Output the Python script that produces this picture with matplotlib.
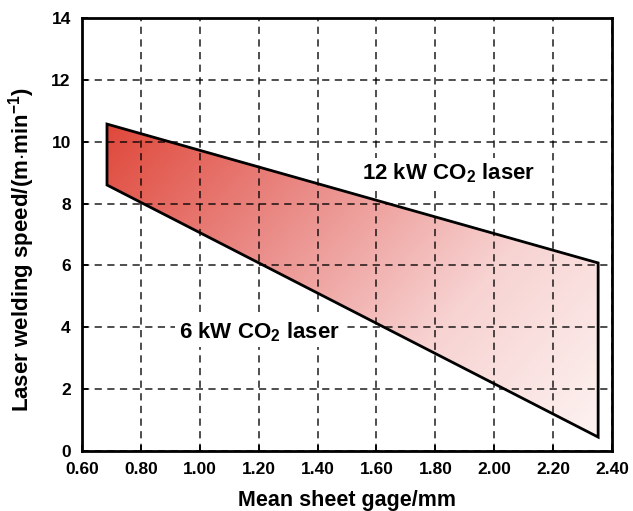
import numpy as np
import matplotlib
matplotlib.use("Agg")
import matplotlib.pyplot as plt
from matplotlib.patches import Polygon
from matplotlib.colors import LinearSegmentedColormap

plt.rcParams['font.family'] = ['Liberation Sans', 'DejaVu Sans']
plt.rcParams['font.weight'] = 'bold'
plt.rcParams['mathtext.fontset'] = 'custom'
plt.rcParams['mathtext.rm'] = 'Liberation Sans:bold'
plt.rcParams['mathtext.it'] = 'Liberation Sans:bold'
plt.rcParams['mathtext.bf'] = 'Liberation Sans:bold'
plt.rcParams['mathtext.default'] = 'rm'

# regiao velocidade x espessura
gage = [0.685, 2.353]
speed_12kw = [10.57, 6.08]   # limite superior
speed_6kw = [8.6, 0.45]      # limite inferior

xticks = [0.60, 0.80, 1.00, 1.20, 1.40, 1.60, 1.80, 2.00, 2.20, 2.40]
yticks = [0, 2, 4, 6, 8, 10, 12, 14]

fig = plt.figure(figsize=(6.33, 5.11), dpi=100)
ax = fig.add_axes([0.1295, 0.1174, 0.8373, 0.8474])

# gradiente vermelho -> branco na diagonal
cmap = LinearSegmentedColormap.from_list("rw", ["#df4537", "#ea8a86", "#f7d3d2", "#fdf4f2"])
gx = np.linspace(0, 1, 300)
gy = np.linspace(0, 1, 300)
GX, GY = np.meshgrid(gx, gy)
grad = 0.62 * GX + 0.38 * (1 - GY)
img = ax.imshow(grad, extent=[gage[0], gage[1], 0, 11], origin='lower',
                cmap=cmap, aspect='auto', zorder=1, interpolation='bilinear')

verts = [(gage[0], speed_12kw[0]), (gage[1], speed_12kw[1]),
         (gage[1], speed_6kw[1]), (gage[0], speed_6kw[0])]
poly = Polygon(verts, closed=True, facecolor='none', edgecolor='black', lw=2, zorder=4)
ax.add_patch(poly)
img.set_clip_path(poly)

ax.set_xlim(0.6, 2.4)
ax.set_ylim(0, 14)
ax.set_xticks(xticks)
ax.set_xticklabels([f"{v:.2f}" for v in xticks])
ax.set_yticks(yticks)
ax.grid(True, color='black', linestyle=(0, (4, 3)), lw=1.3, alpha=0.75, zorder=3)
ax.set_axisbelow(False)
for s in ax.spines.values():
    s.set_linewidth(2)
    s.set_zorder(5)
ax.tick_params(direction='in', length=4, width=1.3, labelsize=12.5, pad=8)

ax.set_xlabel("Mean sheet gage/mm", fontsize=15.5, fontweight='bold', labelpad=9)
ax.set_ylabel(r"Laser welding speed/(m$\cdot$min$^{-1}$)", fontsize=16, fontweight='bold', labelpad=10)
ax.yaxis.label.set_y(0.464)

box = dict(facecolor='white', edgecolor='none', pad=2.5)
ax.text(1.845, 8.79, r"12 kW CO$_2$ laser", fontsize=16, fontweight='bold',
        ha='center', va='baseline', zorder=6, bbox=box)
ax.text(1.201, 3.65, r"6 kW CO$_2$ laser", fontsize=16, fontweight='bold',
        ha='center', va='baseline', zorder=6, bbox=box)

fig.savefig("out.png", dpi=100)
